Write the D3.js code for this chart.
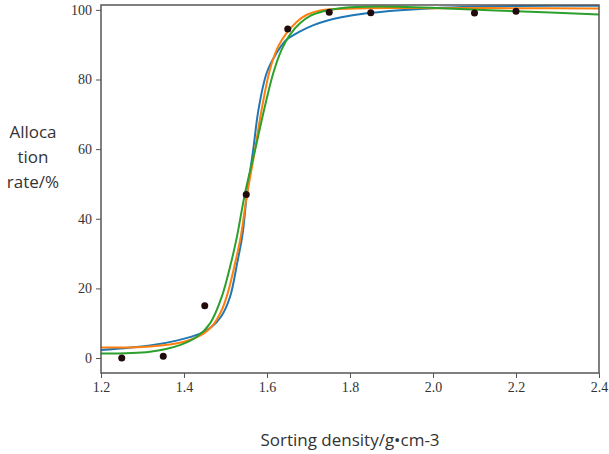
<!DOCTYPE html>
<html>
<head>
<meta charset="utf-8">
<script src="https://cdn.jsdelivr.net/npm/d3@7"></script>
<style>
  body { margin: 0; background: #fff; }
  .axis-title { font-family: "Open Sans", "Noto Sans", sans-serif; font-size: 17px; fill: #333; }
</style>
</head>
<body>
<div id="plot"></div>
<script>
// measured points (density, allocation rate)
const pointX = [1.25, 1.35, 1.45, 1.55, 1.65, 1.75, 1.85, 2.1, 2.2];
const pointY = [0, 0.5, 15, 47, 94.5, 99.3, 99.2, 99.1, 99.6];

// fitted curves
const blueX = [1.2, 1.318, 1.382, 1.439, 1.465, 1.49, 1.511, 1.528, 1.541, 1.551, 1.567, 1.579, 1.599, 1.623, 1.647, 1.68, 1.712, 1.748, 1.776, 1.84, 1.92, 2.0, 2.1, 2.2, 2.4];
const blueY = [2.3, 3.6, 5.0, 7.0, 8.8, 12, 17.6, 27.2, 35.5, 46.5, 60, 71, 81.8, 87.6, 91.4, 93.8, 95.6, 97.0, 97.8, 99.0, 99.9, 100.5, 100.9, 101.1, 101.2];

const orangeX = [1.2, 1.318, 1.398, 1.447, 1.47, 1.49, 1.505, 1.523, 1.537, 1.551, 1.567, 1.587, 1.607, 1.627, 1.647, 1.672, 1.696, 1.728, 1.76, 1.84, 2.0, 2.2, 2.4];
const orangeY = [3.0, 3.3, 4.6, 7.0, 9.5, 13.5, 18.5, 27.2, 35, 46.4, 57, 71.3, 82.8, 89.5, 93.3, 96.6, 98.6, 99.8, 100.2, 100.5, 100.5, 100.5, 100.4];

const greenX = [1.2, 1.318, 1.39, 1.431, 1.463, 1.491, 1.513, 1.527, 1.547, 1.575, 1.593, 1.615, 1.635, 1.655, 1.68, 1.704, 1.736, 1.776, 1.84, 1.92, 2.02, 2.2, 2.4];
const greenY = [1.3, 1.8, 3.7, 6.1, 10, 17.6, 27.2, 34.5, 47.3, 61.7, 71.3, 81.8, 88.5, 92.8, 96.2, 98.3, 99.6, 100.5, 100.9, 100.9, 100.5, 99.6, 98.7];

const xTicks = [1.2, 1.4, 1.6, 1.8, 2.0, 2.2, 2.4];
const yTicks = [0, 20, 40, 60, 80, 100];
const yLabelLines = ["Alloca", "tion", "rate/%"];

const width = 609, height = 454;
const margin = { top: 5, right: 10, bottom: 81, left: 101 };

const x = d3.scaleLinear().domain([1.2, 2.4]).range([margin.left, width - margin.right]);
const y = d3.scaleLinear().domain([-4.3, 101.4]).range([height - margin.bottom, margin.top]);

const svg = d3.select("#plot").append("svg")
    .attr("width", width).attr("height", height);

// curves
const line = d3.line().x(d => x(d[0])).y(d => y(d[1])).curve(d3.curveCatmullRom.alpha(0.5));
const series = [
    { xs: blueX, ys: blueY, color: "#1f77b4" },
    { xs: orangeX, ys: orangeY, color: "#ff7f0e" },
    { xs: greenX, ys: greenY, color: "#2ca02c" }
];
svg.append("clipPath").attr("id", "clip").append("rect")
    .attr("x", margin.left).attr("y", margin.top)
    .attr("width", width - margin.left - margin.right)
    .attr("height", height - margin.top - margin.bottom);

series.forEach(s => {
    svg.append("path")
        .datum(d3.zip(s.xs, s.ys))
        .attr("clip-path", "url(#clip)")
        .attr("fill", "none")
        .attr("stroke", s.color)
        .attr("stroke-width", 2)
        .attr("d", line);
});

// points
svg.append("g").selectAll("circle")
    .data(d3.zip(pointX, pointY))
    .join("circle")
    .attr("cx", d => x(d[0]))
    .attr("cy", d => y(d[1]))
    .attr("r", 3.5)
    .attr("fill", "#200a0a");

// axes
const styleAxis = g => {
    g.attr("font-family", null).attr("font-size", null);
    g.select(".domain").remove();
    g.selectAll("line").attr("stroke", "#555");
    g.selectAll("text")
        .style("font-family", "'Liberation Serif', 'Times New Roman', serif")
        .style("font-size", "14px")
        .attr("fill", "#333");
};

svg.append("g")
    .attr("transform", `translate(0,${height - margin.bottom})`)
    .call(d3.axisBottom(x).tickValues(xTicks).tickFormat(d3.format(".1f")).tickSize(5).tickPadding(4))
    .call(styleAxis);

svg.append("g")
    .attr("transform", `translate(${margin.left},0)`)
    .call(d3.axisLeft(y).tickValues(yTicks).tickSize(5).tickPadding(4))
    .call(styleAxis);

// frame
svg.append("rect")
    .attr("x", margin.left).attr("y", margin.top)
    .attr("width", width - margin.left - margin.right)
    .attr("height", height - margin.top - margin.bottom)
    .attr("fill", "none")
    .attr("stroke", "#555")
    .attr("stroke-width", 1.5);

// titles
svg.append("text")
    .attr("class", "axis-title")
    .attr("x", 350).attr("y", 446)
    .attr("text-anchor", "middle")
    .text("Sorting density/g•cm-3");

svg.append("text")
    .attr("class", "axis-title")
    .attr("text-anchor", "middle")
    .selectAll("tspan")
    .data(yLabelLines)
    .join("tspan")
    .attr("x", 33)
    .attr("y", (d, i) => 138 + i * 25)
    .text(d => d);
</script>
</body>
</html>
